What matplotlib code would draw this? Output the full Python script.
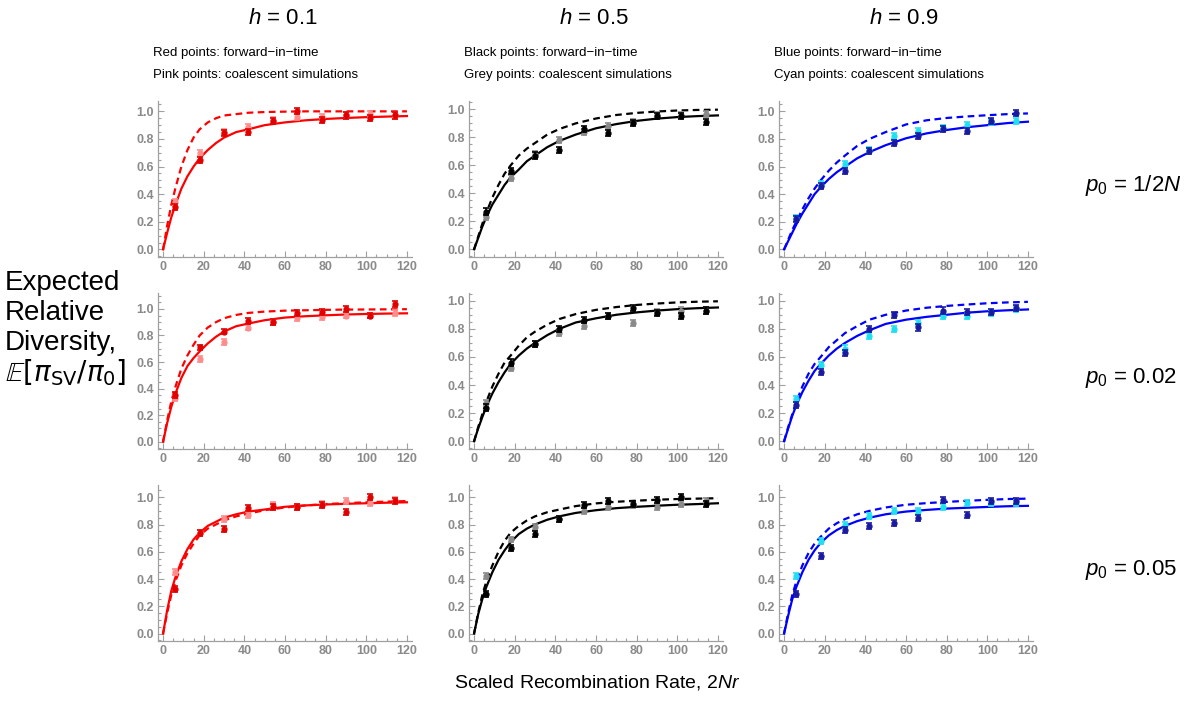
import matplotlib
matplotlib.use("Agg")
import matplotlib.pyplot as plt
from matplotlib.ticker import MultipleLocator

plt.rcParams['font.family'] = ['Liberation Sans', 'DejaVu Sans']
plt.rcParams['mathtext.fontset'] = 'custom'
plt.rcParams['mathtext.rm'] = 'Liberation Sans'
plt.rcParams['mathtext.it'] = 'Liberation Sans:italic'
plt.rcParams['mathtext.bf'] = 'Liberation Sans:bold'

W, H = 1196, 702

# recombination rates where the simulations were run
x_pts = [6, 18, 30, 42, 54, 66, 78, 90, 102, 114]
x_curve = [0, 2, 4, 6, 9, 12, 15, 18, 22, 26, 30, 36, 42, 50, 60, 70, 80, 90, 100, 110, 120]
yerr = 0.022

h_labels = ["0.1", "0.5", "0.9"]
p0_labels = ["1/2$N$", "0.02", "0.05"]
fwd_names = ["Red", "Black", "Blue"]
coal_names = ["Pink", "Grey", "Cyan"]

# row 1: p0 = 1/2N
solid_11 = [0, .12, .23, .32, .44, .53, .60, .66, .72, .77, .81, .85, .87, .90, .92, .935, .945, .952, .958, .962, .966]
dash_11 = [0, .17, .32, .44, .60, .72, .81, .87, .92, .95, .97, .98, .99, .995, .998, 1, 1, 1, 1, 1, 1]
fwd_11 = [.31, .65, .84, .85, .93, 1.00, .94, .97, .95, .97]
coal_11 = [.34, .70, .85, .89, .94, .96, .96, .97, .98, .97]

solid_12 = [0, .08, .16, .23, .32, .39, .46, .515, .57, .63, .67, .73, .775, .82, .865, .895, .918, .934, .945, .952, .957]
dash_12 = [0, .09, .18, .26, .37, .46, .54, .60, .67, .72, .76, .82, .86, .90, .935, .96, .975, .985, .992, .996, .998]
fwd_12 = [.27, .56, .67, .71, .86, .83, .90, .95, .95, .91]
coal_12 = [.23, .51, .68, .78, .84, .88, .91, .96, .96, .97]

solid_13 = [0, .06, .12, .18, .26, .33, .40, .45, .51, .56, .60, .66, .705, .755, .805, .84, .865, .885, .90, .915, .925]
dash_13 = [0, .07, .14, .20, .29, .37, .44, .50, .57, .63, .68, .75, .80, .85, .905, .935, .952, .963, .972, .98, .985]
fwd_13 = [.22, .46, .57, .71, .77, .82, .87, .86, .93, .99]
coal_13 = [.23, .47, .62, .72, .82, .86, .88, .90, .92, .93]

# row 2: p0 = 0.02
solid_21 = [0, .14, .26, .36, .48, .57, .63, .68, .74, .79, .83, .87, .89, .915, .935, .945, .952, .958, .962, .965, .967]
dash_21 = [0, .16, .30, .41, .55, .65, .73, .80, .86, .90, .93, .955, .97, .98, .987, .99, .993, .995, .996, .997, .998]
fwd_21 = [.35, .71, .83, .91, .90, .97, .98, 1.00, .95, 1.04]
coal_21 = [.33, .62, .75, .86, .90, .93, .94, .95, .95, .97]

solid_22 = [0, .09, .17, .245, .34, .42, .49, .55, .61, .66, .70, .755, .80, .845, .875, .90, .917, .93, .94, .947, .952]
dash_22 = [0, .10, .19, .28, .39, .48, .56, .61, .68, .74, .78, .83, .87, .905, .935, .955, .97, .98, .988, .993, .996]
fwd_22 = [.24, .56, .69, .80, .86, .89, .95, .91, .89, .93]
coal_22 = [.27, .52, .69, .77, .82, .89, .84, .92, .93, .93]

solid_23 = [0, .09, .18, .255, .35, .43, .50, .55, .61, .66, .70, .75, .79, .835, .865, .885, .90, .915, .925, .932, .938]
dash_23 = [0, .10, .19, .28, .39, .48, .55, .60, .67, .72, .77, .82, .865, .90, .93, .95, .963, .973, .982, .988, .992]
fwd_23 = [.26, .49, .63, .80, .90, .81, .93, .92, .92, .95]
coal_23 = [.30, .54, .66, .75, .80, .84, .89, .89, .91, .94]

# row 3: p0 = 0.05
solid_31 = [0, .17, .31, .41, .53, .62, .69, .74, .79, .82, .85, .875, .895, .91, .93, .94, .947, .952, .956, .96, .963]
dash_31 = [0, .15, .28, .38, .50, .59, .66, .72, .77, .80, .83, .86, .88, .905, .925, .94, .95, .957, .963, .968, .972]
fwd_31 = [.33, .74, .77, .92, .93, .93, .94, .89, 1.00, .97]
coal_31 = [.45, .74, .84, .87, .94, .93, .95, .97, .96, .98]

solid_32 = [0, .14, .25, .34, .45, .54, .61, .67, .73, .77, .80, .835, .86, .885, .905, .92, .93, .938, .945, .95, .956]
dash_32 = [0, .15, .28, .38, .50, .60, .68, .74, .79, .83, .86, .89, .91, .935, .955, .967, .975, .982, .987, .99, .993]
fwd_32 = [.29, .63, .73, .84, .94, .97, .95, .98, 1.00, .95]
coal_32 = [.42, .69, .78, .84, .90, .93, .94, .93, .95, .97]

solid_33 = [0, .13, .25, .34, .45, .54, .61, .665, .72, .76, .79, .825, .85, .875, .895, .907, .917, .923, .929, .934, .937]
dash_33 = [0, .15, .28, .38, .50, .59, .66, .71, .77, .81, .84, .875, .90, .925, .945, .957, .966, .974, .981, .987, .99]
fwd_33 = [.29, .57, .76, .79, .81, .85, .98, .87, .97, .97]
coal_33 = [.42, .68, .80, .86, .90, .90, .93, .96, .96, .96]

solids = [[solid_11, solid_12, solid_13], [solid_21, solid_22, solid_23], [solid_31, solid_32, solid_33]]
dashes = [[dash_11, dash_12, dash_13], [dash_21, dash_22, dash_23], [dash_31, dash_32, dash_33]]
fwds = [[fwd_11, fwd_12, fwd_13], [fwd_21, fwd_22, fwd_23], [fwd_31, fwd_32, fwd_33]]
coals = [[coal_11, coal_12, coal_13], [coal_21, coal_22, coal_23], [coal_31, coal_32, coal_33]]

line_cols = ["#ff0000", "#000000", "#0000ff"]
fwd_cols = ["#e00000", "#000000", "#1a1aa0"]
coal_cols = ["#ff8c8c", "#8a8a8a", "#20e0f0"]

col_left = [158, 469, 779]
row_top = [101, 293, 485]
ax_w, ax_h = 254, 156
ytops = [[1.075, 1.06, 1.075], [1.12, 1.055, 1.055], [1.09, 1.09, 1.09]]

fig = plt.figure(figsize=(W / 100, H / 100), dpi=100)
tick_col = "#8a8a8a"

for r in range(3):
    for c in range(3):
        ax = fig.add_axes([col_left[c] / W, 1 - (row_top[r] + ax_h) / H, ax_w / W, ax_h / H])
        ax.plot(x_curve, solids[r][c], color=line_cols[c], lw=1.6, zorder=2)
        ax.plot(x_curve, dashes[r][c], color=line_cols[c], lw=1.6, ls=(0, (3, 2)), zorder=2)
        ax.errorbar(x_pts, coals[r][c], yerr=yerr, fmt="o", ms=3.5, color=coal_cols[c],
                    elinewidth=1.2, capsize=2, capthick=1.2, zorder=3)
        ax.errorbar(x_pts, fwds[r][c], yerr=yerr, fmt="o", ms=3.5, color=fwd_cols[c],
                    elinewidth=1.2, capsize=2, capthick=1.2, zorder=4)
        ax.set_xlim(-2.5, 122.5)
        ax.set_ylim(-0.055, ytops[r][c])
        ax.set_xticks(range(0, 121, 20))
        ax.set_yticks([0, 0.2, 0.4, 0.6, 0.8, 1.0])
        ax.set_yticklabels(["0.0", "0.2", "0.4", "0.6", "0.8", "1.0"])
        ax.xaxis.set_minor_locator(MultipleLocator(5))
        ax.yaxis.set_minor_locator(MultipleLocator(0.05))
        for s in ["top", "right"]:
            ax.spines[s].set_visible(False)
        for s in ["left", "bottom"]:
            ax.spines[s].set_color("#a0a0a0")
            ax.spines[s].set_linewidth(0.9)
        ax.tick_params(which="both", direction="in", color="#a0a0a0", width=0.8)
        ax.tick_params(which="major", length=4, pad=3, labelsize=9, labelcolor=tick_col)
        ax.tick_params(which="minor", length=2)
        for lab in ax.get_xticklabels() + ax.get_yticklabels():
            lab.set_fontweight("bold")

# column headers
for c in range(3):
    cx = col_left[c] + 125
    fig.text(cx / W, 1 - 18 / H, "$h$ = " + h_labels[c], fontsize=16, ha="center", va="center")
    fig.text((col_left[c] - 5) / W, 1 - 53 / H, fwd_names[c] + " points: forward\u2212in\u2212time",
             fontsize=9.5, ha="left", va="center")
    fig.text((col_left[c] - 5) / W, 1 - 75 / H, coal_names[c] + " points: coalescent simulations",
             fontsize=9.5, ha="left", va="center")

# row labels
for r in range(3):
    fig.text(1085 / W, 1 - (row_top[r] + 85) / H, "$p_0$ = " + p0_labels[r], fontsize=16,
             ha="left", va="center")

# y label
for i, line in enumerate(["Expected", "Relative", "Diversity,"]):
    fig.text(5 / W, 1 - (283 + 30 * i) / H, line, fontsize=20, ha="left", va="center")
fig.text(5 / W, 1 - 373 / H, r"$\mathbb{E}[\pi_{\mathrm{SV}}/\pi_0]$", fontsize=20,
         ha="left", va="center", math_fontfamily="dejavusans")

# x label
fig.text(597 / W, 1 - 683 / H, "Scaled Recombination Rate, 2$Nr$", fontsize=14,
         ha="center", va="center")

fig.savefig("out.png", dpi=100)
